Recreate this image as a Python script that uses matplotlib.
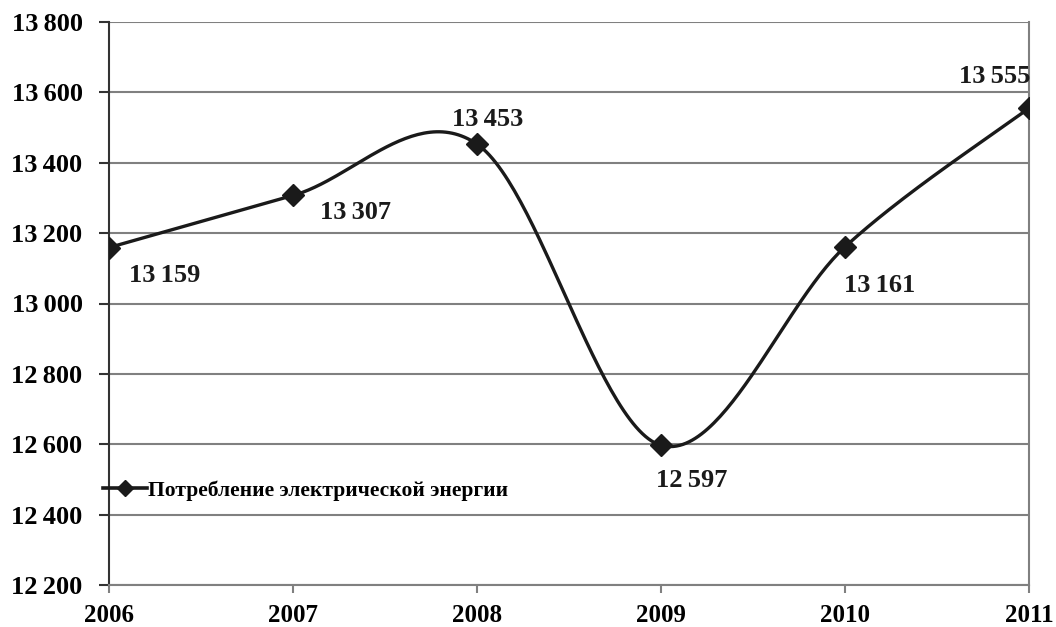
import numpy as np
import matplotlib
matplotlib.use("Agg")
import matplotlib.pyplot as plt

years = ["2006", "2007", "2008", "2009", "2010", "2011"]
values = [13159, 13307, 13453, 12597, 13161, 13555]
y_ticks = [12200, 12400, 12600, 12800, 13000, 13200, 13400, 13600, 13800]
series_name = "Потребление электрической энергии"

def fmt(v):
    s = f"{v:,}".replace(",", "\u2009")
    return s

def excel_smooth(xs, ys, n=60):
    P = np.column_stack([xs, ys]).astype(float)
    m = len(P)
    out = []
    for i in range(m - 1):
        p0 = P[i - 1] if i > 0 else P[i]
        p1 = P[i]
        p2 = P[i + 1]
        p3 = P[i + 2] if i + 2 < m else P[i + 1]
        c1 = p1 + (p2 - p0) / 6.0
        c2 = p2 - (p3 - p1) / 6.0
        t = np.linspace(0, 1, n)[:, None]
        seg = ((1 - t) ** 3) * p1 + 3 * ((1 - t) ** 2) * t * c1 + 3 * (1 - t) * t ** 2 * c2 + t ** 3 * p2
        out.append(seg if i == 0 else seg[1:])
    out = np.vstack(out)
    return out[:, 0], out[:, 1]

plt.rcParams['font.family'] = ['Liberation Serif', 'DejaVu Serif']

fig = plt.figure(figsize=(10.56, 6.27), dpi=100)
ax = fig.add_axes([109 / 1056, 42 / 627, (1029 - 109) / 1056, (585 - 22) / 627])

x = np.arange(len(years))
sx, sy = excel_smooth(x, values)
ax.plot(sx, sy, color="#1a1a1a", lw=2.4, solid_capstyle="round", zorder=3)
ax.plot(x, values, linestyle="none", marker="D", markersize=11, color="#1a1a1a", zorder=4)
# legend proxy
ax.plot([], [], color="#1a1a1a", lw=2.6, marker="D", markersize=8, label=series_name)

ax.set_xlim(0, len(years) - 1)
ax.set_ylim(y_ticks[0], y_ticks[-1])
ax.set_yticks(y_ticks)
ax.set_yticklabels([fmt(v) for v in y_ticks], fontsize=19, fontweight="bold")
ax.set_xticks(x)
ax.set_xticklabels(years, fontsize=18, fontweight="bold")

ax.yaxis.grid(True, color="#808080", lw=1.5)
ax.set_axisbelow(True)
ax.spines["top"].set_visible(False)
ax.spines["left"].set_color("#333333")
ax.spines["left"].set_linewidth(1.5)
ax.spines["bottom"].set_color("#808080")
ax.spines["bottom"].set_linewidth(1.5)
ax.spines["right"].set_color("#808080")
ax.spines["right"].set_linewidth(1.5)
ax.tick_params(axis="y", direction="out", length=7, width=1.5, color="#333333", pad=12)
ax.tick_params(axis="x", direction="out", length=6, width=1.5, color="#808080", pad=8)

# data labels: offsets in points
offsets = [(40, -20), (45, -12), (8, 18), (22, -25), (25, -28), (-25, 23)]
for xi, v, (dx, dy) in zip(x, values, offsets):
    ax.annotate(fmt(v), (xi, v), xytext=(dx, dy), textcoords="offset points",
                ha="center", va="center", fontsize=19, fontweight="bold",
                color="#1a1a1a", annotation_clip=False, zorder=5)

leg = ax.legend(loc="center left", bbox_to_anchor=(-0.0065, 0.168), frameon=False,
                prop={"size": 15.5, "weight": "bold"}, handlelength=2.05, handletextpad=0.05,
                borderaxespad=0, borderpad=0)

fig.savefig("out.png", dpi=100, facecolor="white")
